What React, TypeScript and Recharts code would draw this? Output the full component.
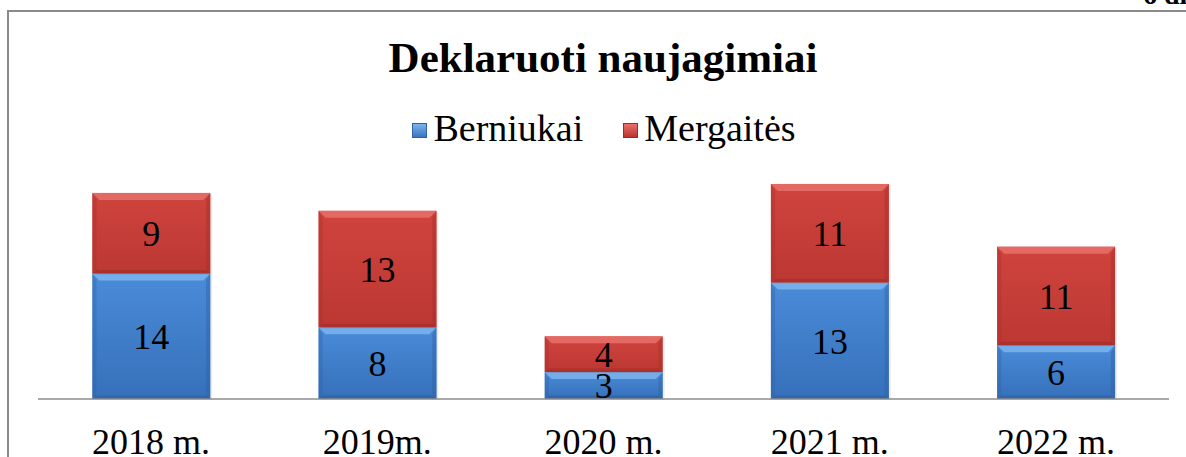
import React from 'react';
import { BarChart, Bar, XAxis, YAxis, LabelList, Legend } from 'recharts';

const categories = ['2018 m.', '2019m.', '2020 m.', '2021 m.', '2022 m.'];
const berniukai = [14, 8, 3, 13, 6];
const mergaites = [9, 13, 4, 11, 11];
const seriesNames = ['Berniukai', 'Mergaitės'];
const title = 'Deklaruoti naujagimiai';

const data = categories.map((c, i) => ({ name: c, b: berniukai[i], m: mergaites[i] }));

const FONT = "'Liberation Serif', 'Times New Roman', Times, serif";

const palettes: Record<string, any> = {
  blue: { top: '#4a8bd8', bottom: '#3670ba', hi: '#7fb6f0', side: '#2f62a6', low: '#2c5c9c' },
  red: { top: '#d0433d', bottom: '#bc3833', hi: '#e9736d', side: '#a62f2b', low: '#9c2a26' },
};

const makeShape = (key: string) => (props: any) => {
  const { x, y, width, height } = props;
  if (!height || height <= 0) return null;
  const p = palettes[key];
  const b = Math.min(7, height / 3);
  const gid = `grad-${key}`;
  return (
    <g>
      <defs>
        <linearGradient id={gid} x1="0" y1="0" x2="0" y2="1">
          <stop offset="0%" stopColor={p.top} />
          <stop offset="100%" stopColor={p.bottom} />
        </linearGradient>
      </defs>
      <rect x={x + 2} y={y + 1} width={width} height={height} fill="#000" opacity={0.08} />
      <rect x={x} y={y} width={width} height={height} fill={`url(#${gid})`} />
      <polygon
        points={`${x},${y} ${x + width},${y} ${x + width - b},${y + b} ${x + b},${y + b}`}
        fill={p.hi}
        opacity={0.8}
      />
      <polygon
        points={`${x},${y} ${x + b * 0.6},${y + b} ${x + b * 0.6},${y + height - b * 0.5} ${x},${y + height}`}
        fill={p.side}
        opacity={0.35}
      />
      <polygon
        points={`${x + width},${y} ${x + width - b * 0.6},${y + b} ${x + width - b * 0.6},${y + height - b * 0.5} ${x + width},${y + height}`}
        fill={p.side}
        opacity={0.45}
      />
      <polygon
        points={`${x},${y + height} ${x + b * 0.6},${y + height - b * 0.5} ${x + width - b * 0.6},${y + height - b * 0.5} ${x + width},${y + height}`}
        fill={p.low}
        opacity={0.5}
      />
    </g>
  );
};

const LegendContent = () => (
  <div
    style={{
      display: 'flex',
      justifyContent: 'center',
      alignItems: 'center',
      height: 40,
      lineHeight: '40px',
      fontFamily: FONT,
      fontSize: 38,
      color: '#000',
      paddingLeft: 22,
    }}
  >
    {seriesNames.map((n, i) => (
      <span key={n} style={{ display: 'flex', alignItems: 'center', marginRight: i === 0 ? 40 : 0, fontFamily: FONT }}>
        <span
          style={{
            display: 'inline-block',
            width: 15,
            height: 15,
            marginRight: 6,
            marginTop: 4,
            background:
              i === 0
                ? 'linear-gradient(#7db4ef, #3a74c0)'
                : 'linear-gradient(#ec6f69, #b8352f)',
            border: `1px solid ${i === 0 ? '#2f62a6' : '#9c2a26'}`,
            boxSizing: 'border-box',
          }}
        />
        <span style={{ fontFamily: FONT, fontSize: 38 }}>{n}</span>
      </span>
    ))}
  </div>
);

export default function App() {
  return (
    <div
      style={{
        position: 'fixed',
        left: 0,
        top: 0,
        width: 1186,
        height: 457,
        overflow: 'hidden',
        background: '#fff',
      }}
    >
      <div
        style={{
          position: 'absolute',
          left: 7,
          top: 10,
          width: 2000,
          height: 2000,
          borderLeft: '2px solid #8a8a8a',
          borderTop: '2px solid #8a8a8a',
        }}
      />
      <svg width={1186} height={457} style={{ position: 'absolute', left: 0, top: 0 }}>
        <text
          x={603}
          y={72}
          textAnchor="middle"
          fontFamily={FONT}
          fontWeight="bold"
          fontSize={43}
          fill="#000"
        >
          {title}
        </text>
        <text x={1143} y={4} fontFamily={FONT} fontWeight="bold" fontSize={28} fill="#000">
          6 diagrama
        </text>
      </svg>
      <div style={{ position: 'absolute', left: 0, top: 0 }}>
        <BarChart
          width={1186}
          height={457}
          data={data}
          margin={{ top: 175, right: 17, bottom: 0, left: 38 }}
          barCategoryGap="24%"
        >
          <XAxis
            dataKey="name"
            height={58}
            axisLine={{ stroke: '#8c8c8c', strokeWidth: 1.5 }}
            tickLine={false}
            tickSize={0}
            tickMargin={29}
            interval={0}
            tick={{ fontFamily: FONT, fontSize: 36, fill: '#000' }}
          />
          <YAxis hide domain={[0, 25]} />
          <Legend
            verticalAlign="middle"
            align="center"
            layout="horizontal"
            wrapperStyle={{ top: 108, left: 0, width: 1186, fontFamily: FONT }}
            content={<LegendContent />}
          />
          <Bar dataKey="b" name={seriesNames[0]} stackId="s" fill="#3d7cc9" shape={makeShape('blue')} isAnimationActive={false}>
            <LabelList dataKey="b" position="center" style={{ fontFamily: FONT, fontSize: 36, fill: '#000' }} />
          </Bar>
          <Bar dataKey="m" name={seriesNames[1]} stackId="s" fill="#c8403b" shape={makeShape('red')} isAnimationActive={false}>
            <LabelList dataKey="m" position="center" style={{ fontFamily: FONT, fontSize: 36, fill: '#000' }} />
          </Bar>
        </BarChart>
      </div>
    </div>
  );
}
